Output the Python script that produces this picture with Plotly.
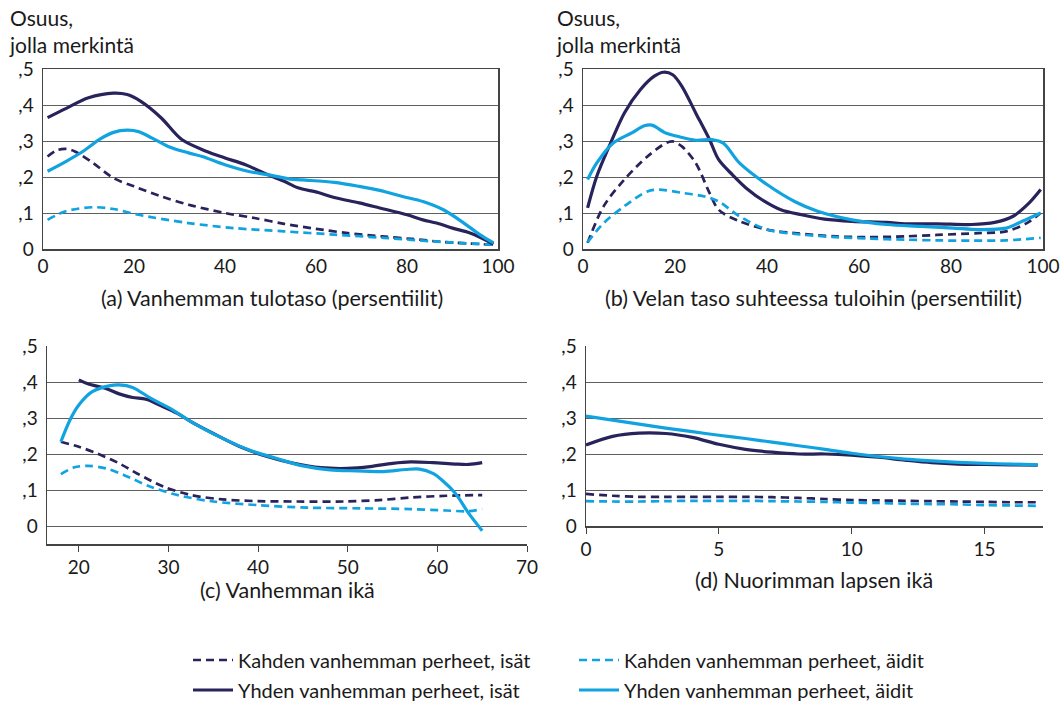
import plotly.graph_objects as go

# ---------------- data ----------------
# Panel (a): parent's income percentile
a_x_ds = [1, 3, 5, 7, 11, 15.5, 20, 26, 32, 40, 46.5, 53, 60, 67, 74.5, 81, 88.5, 99]
a_y_ds = [0.257, 0.274, 0.278, 0.271, 0.239, 0.197, 0.174, 0.146, 0.123, 0.100, 0.086, 0.070, 0.056, 0.044, 0.035, 0.028, 0.019, 0.012]
a_x_ls = [1, 5, 11, 15.5, 21, 32, 42, 53, 64, 75, 86, 99]
a_y_ls = [0.081, 0.105, 0.116, 0.111, 0.095, 0.072, 0.058, 0.049, 0.040, 0.031, 0.021, 0.012]
a_x_dl = [1, 5, 10, 15.5, 18.5, 21.5, 26, 30.5, 36, 40, 44.5, 49.5, 53, 56, 60.5, 64, 69.5, 74, 80, 83.5, 86.5, 90, 94, 99]
a_y_dl = [0.365, 0.390, 0.420, 0.433, 0.429, 0.410, 0.364, 0.304, 0.271, 0.253, 0.234, 0.206, 0.188, 0.170, 0.157, 0.143, 0.128, 0.114, 0.095, 0.081, 0.072, 0.058, 0.044, 0.014]
a_x_ll = [1, 5, 9, 12.5, 15.5, 18.5, 21, 24, 27.5, 32, 35, 40, 45, 49.5, 54, 57, 64, 69.5, 74, 79, 83.5, 88, 92.5, 96, 99]
a_y_ll = [0.216, 0.243, 0.273, 0.305, 0.324, 0.330, 0.326, 0.308, 0.285, 0.267, 0.257, 0.234, 0.216, 0.206, 0.195, 0.192, 0.185, 0.174, 0.163, 0.146, 0.132, 0.109, 0.072, 0.040, 0.017]

# Panel (b): debt relative to income percentile
b_x_ds = [1, 4.5, 9, 14, 18, 19.5, 21.5, 24.5, 27.5, 29.5, 34, 40, 46, 55, 62, 70, 77, 86, 92, 96.5, 99.5]
b_y_ds = [0.017, 0.119, 0.193, 0.257, 0.294, 0.299, 0.285, 0.239, 0.156, 0.109, 0.077, 0.054, 0.044, 0.035, 0.033, 0.035, 0.039, 0.044, 0.049, 0.072, 0.100]
b_x_ls = [1, 4.5, 9, 14, 16.5, 21.5, 26.5, 29.5, 34, 40, 47.5, 55, 62, 70, 77, 84.5, 92, 99.5]
b_y_ls = [0.019, 0.072, 0.119, 0.160, 0.165, 0.156, 0.146, 0.132, 0.091, 0.054, 0.040, 0.033, 0.029, 0.026, 0.024, 0.023, 0.024, 0.031]
b_x_dl = [1, 3, 6, 9, 12.5, 15.5, 17.5, 19.5, 21.5, 24.5, 27.5, 29.5, 32.5, 35.5, 39.5, 43, 47.5, 52.5, 58.5, 66, 70, 77, 84.5, 89.5, 93.5, 97, 99.5]
b_y_dl = [0.114, 0.202, 0.294, 0.378, 0.443, 0.480, 0.491, 0.484, 0.452, 0.378, 0.304, 0.248, 0.206, 0.169, 0.132, 0.109, 0.095, 0.083, 0.077, 0.074, 0.070, 0.070, 0.068, 0.074, 0.091, 0.128, 0.165]
b_x_ll = [1, 3, 6.5, 10.5, 13.5, 15, 18, 20.5, 24.5, 28, 30.5, 34, 40, 46, 51, 58.5, 66, 73.5, 80.5, 86, 92, 95.5, 99.5]
b_y_ll = [0.193, 0.239, 0.294, 0.322, 0.343, 0.344, 0.322, 0.313, 0.302, 0.304, 0.294, 0.239, 0.179, 0.132, 0.105, 0.081, 0.068, 0.063, 0.058, 0.054, 0.058, 0.077, 0.100]

# Panel (c): parent's age
c_x_ds = [18, 20, 22, 24.5, 26.5, 29.5, 32.5, 36, 40, 44.5, 49.5, 53.5, 57, 61, 65]
c_y_ds = [0.234, 0.220, 0.202, 0.174, 0.146, 0.109, 0.086, 0.074, 0.069, 0.068, 0.068, 0.072, 0.079, 0.084, 0.086]
c_x_ls = [18, 19.5, 21, 23, 25, 28, 31, 35, 40, 45.5, 51.5, 57, 61, 63.5, 65]
c_y_ls = [0.144, 0.163, 0.167, 0.160, 0.142, 0.109, 0.086, 0.068, 0.058, 0.051, 0.049, 0.047, 0.043, 0.041, 0.047]
c_x_dl = [20, 21, 23, 24.5, 26, 27.5, 29, 31, 32.5, 35, 38, 41, 44, 47, 50, 52.5, 55, 57, 59.5, 62, 63.5, 65]
c_y_dl = [0.406, 0.395, 0.382, 0.367, 0.357, 0.352, 0.336, 0.313, 0.290, 0.257, 0.220, 0.193, 0.174, 0.162, 0.160, 0.165, 0.174, 0.178, 0.176, 0.172, 0.171, 0.176]
c_x_ll = [18, 19, 20, 21.5, 23.5, 24.5, 26, 28, 30.5, 32.5, 36, 39, 42, 45, 48, 51, 54, 56.5, 58, 59.5, 60.5, 62, 63.5, 65]
c_y_ll = [0.234, 0.294, 0.336, 0.373, 0.390, 0.392, 0.385, 0.355, 0.322, 0.290, 0.244, 0.211, 0.188, 0.167, 0.156, 0.153, 0.151, 0.157, 0.158, 0.146, 0.128, 0.091, 0.035, -0.013]

# Panel (d): youngest child's age
d_x = list(range(0, 18))
d_y_ds = [0.089, 0.084, 0.081, 0.081, 0.081, 0.081, 0.081, 0.080, 0.078, 0.075, 0.072, 0.071, 0.070, 0.069, 0.068, 0.067, 0.066, 0.066]
d_y_ls = [0.069, 0.068, 0.068, 0.069, 0.070, 0.070, 0.070, 0.069, 0.068, 0.067, 0.065, 0.064, 0.062, 0.061, 0.060, 0.058, 0.057, 0.056]
d_y_dl = [0.225, 0.249, 0.258, 0.257, 0.246, 0.227, 0.213, 0.205, 0.200, 0.200, 0.197, 0.191, 0.183, 0.176, 0.172, 0.171, 0.170, 0.169]
d_y_ll = [0.305, 0.294, 0.283, 0.272, 0.262, 0.252, 0.243, 0.233, 0.223, 0.213, 0.202, 0.193, 0.186, 0.181, 0.177, 0.174, 0.172, 0.170]

series_names = ["Kahden vanhemman perheet, isät", "Kahden vanhemman perheet, äidit",
                "Yhden vanhemman perheet, isät", "Yhden vanhemman perheet, äidit"]
y_ticks = [0, 0.1, 0.2, 0.3, 0.4, 0.5]
y_ticktext = ["0", ",1", ",2", ",3", ",4", ",5"]
panel_titles = ["(a) Vanhemman tulotaso (persentiilit)",
                "(b) Velan taso suhteessa tuloihin (persentiilit)",
                "(c) Vanhemman ikä", "(d) Nuorimman lapsen ikä"]
y_title = "Osuus,<br>jolla merkintä"

# ---------------- style ----------------
DARK = "#29235c"
LIGHT = "#10a3e0"
GRID = "#606060"
TXT = "#1a1a1a"
FONT = "Lato"
W, H = 1063, 702

def px_x(p):
    return p / W

def px_y(p):
    return 1 - p / H

styles = [
    dict(color=DARK, width=2.7, dash="8px,5px"),
    dict(color=LIGHT, width=2.7, dash="8px,5px"),
    dict(color=DARK, width=3.2),
    dict(color=LIGHT, width=3.2),
]
legend_of_series = ["legend", "legend", "legend2", "legend2"]

panels = [
    [(a_x_ds, a_y_ds), (a_x_ls, a_y_ls), (a_x_dl, a_y_dl), (a_x_ll, a_y_ll)],
    [(b_x_ds, b_y_ds), (b_x_ls, b_y_ls), (b_x_dl, b_y_dl), (b_x_ll, b_y_ll)],
    [(c_x_ds, c_y_ds), (c_x_ls, c_y_ls), (c_x_dl, c_y_dl), (c_x_ll, c_y_ll)],
    [(d_x, d_y_ds), (d_x, d_y_ls), (d_x, d_y_dl), (d_x, d_y_ll)],
]

fig = go.Figure()
axis_ids = ["", "2", "3", "4"]
for pi, series in enumerate(panels):
    for si, (xs, ys) in enumerate(series):
        fig.add_trace(go.Scatter(
            x=xs, y=ys, mode="lines", name=series_names[si],
            line=dict(shape="spline", smoothing=0.9, **styles[si]),
            showlegend=(pi == 0), legend=legend_of_series[si],
            xaxis="x" + axis_ids[pi], yaxis="y" + axis_ids[pi],
            hoverinfo="skip",
        ))

# domains in pixels: (x0, x1, ytop, ybottom)
doms = [(43, 498, 69, 249), (583, 1043, 69, 249), (47, 527, 346, 544), (586, 1043, 346, 526)]
xranges = [[0, 100], [0, 100], [16.45, 70], [0, 17.2]]
yranges = [[0, 0.5], [0, 0.5], [-0.05, 0.5], [0, 0.5]]
xtick_sets = [[0, 20, 40, 60, 80, 100], [0, 20, 40, 60, 80, 100], [20, 30, 40, 50, 60, 70], [0, 5, 10, 15]]

legend_common = dict(orientation="h", xanchor="left", yanchor="middle",
                     entrywidth=331, entrywidthmode="pixels",
                     font=dict(size=20, family=FONT, color=TXT),
                     traceorder="normal", itemwidth=40, bgcolor="rgba(0,0,0,0)")

layout = dict(
    width=W, height=H, paper_bgcolor="white", plot_bgcolor="white",
    margin=dict(l=0, r=0, t=0, b=0, autoexpand=False),
    font=dict(family=FONT, size=18, color=TXT),
    showlegend=True, hovermode=False,
    legend=dict(x=px_x(188), y=px_y(660), **legend_common),
    legend2=dict(x=px_x(188), y=px_y(690), **legend_common),
)
for i in range(4):
    x0, x1, yt, yb = doms[i]
    mirror = i < 2
    layout["xaxis" + axis_ids[i]] = dict(
        domain=[px_x(x0), px_x(x1)], range=xranges[i], anchor="y" + axis_ids[i],
        tickvals=xtick_sets[i], showgrid=False, zeroline=False, automargin=False,
        showline=True, linecolor="#444444", linewidth=1.5, mirror=mirror,
        ticks="outside" if i >= 2 else "", ticklen=6, tickcolor="#444444",
        tickfont=dict(size=19, family=FONT, color=TXT),
    )
    layout["yaxis" + axis_ids[i]] = dict(
        domain=[px_y(yb), px_y(yt)], range=yranges[i], anchor="x" + axis_ids[i],
        tickvals=y_ticks, ticktext=y_ticktext, showgrid=True, gridcolor=GRID, gridwidth=1,
        zeroline=False, showline=True, linecolor="#444444", linewidth=1.5, mirror=mirror,
        ticks="", ticklabelstandoff=4, automargin=False,
        tickfont=dict(size=19, family=FONT, color=TXT),
    )
fig.update_layout(**layout)

# panel titles (axis captions)
title_pos = [(272, 298), (813, 298), (287, 590), (814, 580)]
for t, (cx, cy) in zip(panel_titles, title_pos):
    fig.add_annotation(text=t, x=px_x(cx), y=px_y(cy), xref="paper", yref="paper",
                       showarrow=False, xanchor="center", yanchor="middle",
                       font=dict(size=21.5, family=FONT, color=TXT))
# y-axis headers
for hx in (7, 554):
    fig.add_annotation(text=y_title, x=px_x(hx), y=px_y(3), xref="paper", yref="paper",
                       showarrow=False, xanchor="left", yanchor="top", align="left",
                       font=dict(size=21, family=FONT, color=TXT))

fig.write_html("out.html", config={"displayModeBar": False, "staticPlot": True},
               post_script="document.body.style.margin='0';document.body.style.overflow='hidden';")
